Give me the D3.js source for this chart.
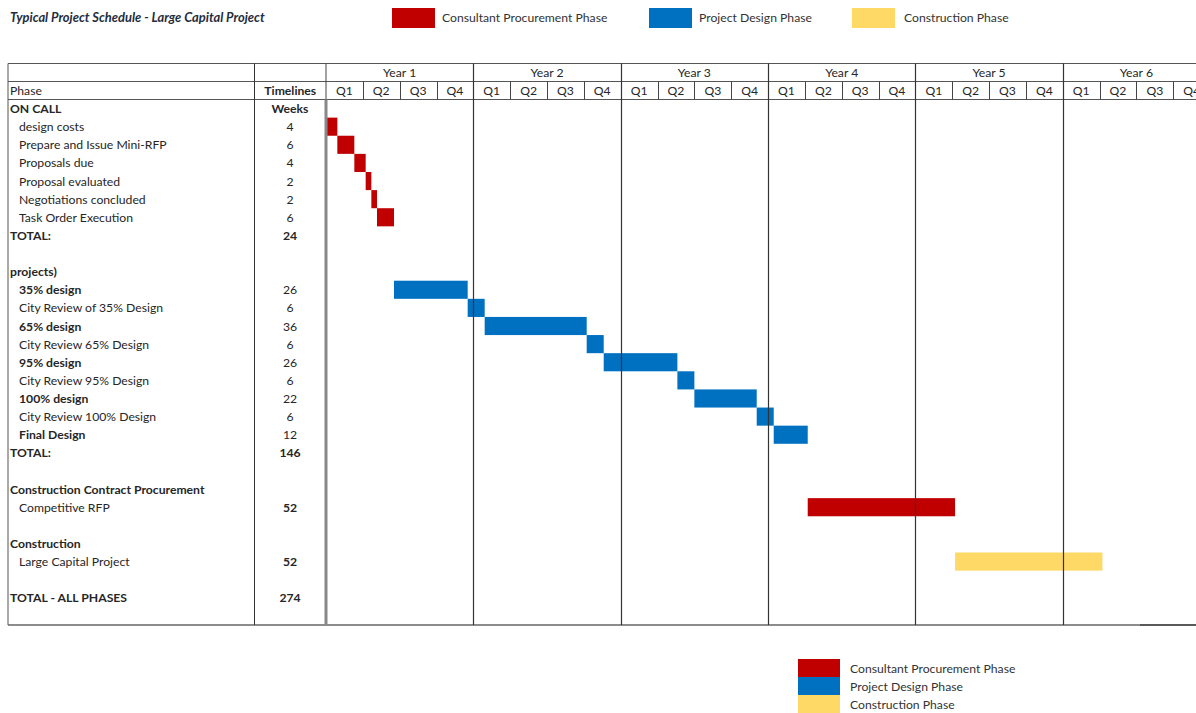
<!DOCTYPE html>
<html>
<head>
<meta charset="utf-8">
<script src="https://cdn.jsdelivr.net/npm/d3@7"></script>
<style>
  html, body { margin: 0; padding: 0; background: #fff; overflow: hidden; }
  svg { display: block; }
  text { font-family: Lato, "Open Sans", sans-serif; fill: #262626; }
</style>
</head>
<body>
<svg id="chart" width="1196" height="713"></svg>
<script>
// ---- schedule data ----
const years = ["Year 1", "Year 2", "Year 3", "Year 4", "Year 5", "Year 6"];
const quarters = ["Q1", "Q2", "Q3", "Q4"];
const weeksPerYear = 52;

// table rows: label, timeline text, row kind
const rowLabels = [
  "ON CALL", "design costs", "Prepare and Issue Mini-RFP", "Proposals due",
  "Proposal evaluated", "Negotiations concluded", "Task Order Execution", "TOTAL:", "",
  "projects)", "35% design", "City Review of 35% Design", "65% design",
  "City Review 65% Design", "95% design", "City Review 95% Design", "100% design",
  "City Review 100% Design", "Final Design", "TOTAL:", "",
  "Construction Contract Procurement", "Competitive RFP", "",
  "Construction", "Large Capital Project", "",
  "TOTAL - ALL PHASES", ""
];
const rowTimelines = [
  "Weeks", "4", "6", "4", "2", "2", "6", "24", "",
  "", "26", "6", "36", "6", "26", "6", "22", "6", "12", "146", "",
  "", "52", "", "", "52", "", "274", ""
];
// head = section heading, task = indented task, taskB = bold indented task, total = total line
const rowKinds = [
  "head", "task", "task", "task", "task", "task", "task", "total", "blank",
  "head", "taskB", "task", "taskB", "task", "taskB", "task", "taskB", "task", "taskB", "total", "blank",
  "head", "task", "blank", "head", "task", "blank", "total", "blank"
];
const boldTimelines = ["Weeks", "24", "146", "274"];
const boldTimelineRows = [22, 25];

// tasks drawn as bars, in sequence
const taskRows = [1, 2, 3, 4, 5, 6, 10, 11, 12, 13, 14, 15, 16, 17, 18, 22, 25];
const taskWeeks = [4, 6, 4, 2, 2, 6, 26, 6, 36, 6, 26, 6, 22, 6, 12, 52, 52];
const taskPhase = [
  "Consultant Procurement Phase", "Consultant Procurement Phase", "Consultant Procurement Phase",
  "Consultant Procurement Phase", "Consultant Procurement Phase", "Consultant Procurement Phase",
  "Project Design Phase", "Project Design Phase", "Project Design Phase", "Project Design Phase",
  "Project Design Phase", "Project Design Phase", "Project Design Phase", "Project Design Phase",
  "Project Design Phase", "Consultant Procurement Phase", "Construction Phase"
];

const phases = ["Consultant Procurement Phase", "Project Design Phase", "Construction Phase"];
const phaseColors = ["#C00000", "#0070C0", "#FFD966"];

const title = "Typical Project Schedule - Large Capital Project";

// ---- layout ----
const svg = d3.select("#chart");
const W = 1196;
const tableLeft = 8, phaseColRight = 254.5, chartLeft = 326;
const headerTop = 63.5, headerMid = 81.5, headerBottom = 99.5;
const rowH = 18.12;
const tableBottom = headerBottom + rowLabels.length * rowH;
const fs = "12.2px";

const color = d3.scaleOrdinal().domain(phases).range(phaseColors);

const x = d3.scaleLinear()
  .domain([0, years.length * weeksPerYear])
  .range([chartLeft, chartLeft + years.length * 147.35]);

const y = d3.scaleBand()
  .domain(d3.range(rowLabels.length))
  .range([headerBottom, tableBottom])
  .paddingInner(0).paddingOuter(0);

// ---- title & top legend ----
svg.append("text")
  .attr("x", 10).attr("y", 22)
  .style("font-size", "12.9px").style("font-weight", "bold").style("font-style", "italic")
  .style("fill", "#1f2d3d")
  .text(title);

const topLegendX = [392, 649, 852];
const topLegend = svg.append("g");
phases.forEach((p, i) => {
  topLegend.append("rect")
    .attr("x", topLegendX[i]).attr("y", 8).attr("width", 43).attr("height", 20)
    .attr("fill", color(p));
  topLegend.append("text")
    .attr("x", topLegendX[i] + (i === 2 ? 52 : 50)).attr("y", 22)
    .style("font-size", fs).style("fill", "#333")
    .text(p);
});

// ---- bars ----
const starts = d3.cumsum([0, ...taskWeeks]);

svg.append("g").selectAll("rect")
  .data(taskWeeks.map((w, i) => ({ row: taskRows[i], start: starts[i], weeks: w, phase: taskPhase[i] })))
  .join("rect")
  .attr("x", d => x(d.start))
  .attr("y", d => y(d.row))
  .attr("width", d => x(d.start + d.weeks) - x(d.start))
  .attr("height", y.bandwidth())
  .attr("fill", d => color(d.phase));

// ---- grid ----
const grid = svg.append("g").attr("fill", "none");
const hline = (y0, x0, x1, stroke, sw) =>
  grid.append("line").attr("x1", x0).attr("x2", x1).attr("y1", y0).attr("y2", y0)
    .attr("stroke", stroke).attr("stroke-width", sw);
const vline = (x0, y0, y1, stroke, sw) =>
  grid.append("line").attr("x1", x0).attr("x2", x0).attr("y1", y0).attr("y2", y1)
    .attr("stroke", stroke).attr("stroke-width", sw);

hline(headerTop, tableLeft, W, "#555", 1);
hline(headerMid, tableLeft, W, "#555", 1);
hline(headerBottom, tableLeft, W, "#555", 1);
hline(tableBottom, tableLeft, 1140, "#666", 1.5);
hline(tableBottom, 1140, W, "#222", 1.5);

vline(tableLeft, headerTop, tableBottom, "#555", 1);
vline(phaseColRight, headerTop, tableBottom, "#333", 1);
vline(chartLeft, headerTop, headerBottom, "#444", 1);
vline(chartLeft, headerBottom, tableBottom, "#888", 3);

// year boundaries run the full height; quarter boundaries only in the quarter row
years.forEach((yr, i) => {
  const x0 = x(i * weeksPerYear);
  if (i > 0) vline(Math.round(x0) + 0.5, headerTop, tableBottom, "#333", 1.2);
  quarters.forEach((q, j) => {
    if (j > 0) vline(Math.round(x(i * weeksPerYear + j * 13)) + 0.5, headerMid, headerBottom, "#444", 1);
  });
});

// ---- header text ----
const hdr = svg.append("g").style("font-size", fs);
years.forEach((yr, i) => {
  hdr.append("text")
    .attr("x", x(i * weeksPerYear + weeksPerYear / 2)).attr("y", headerMid - 5)
    .attr("text-anchor", "middle").text(yr);
  quarters.forEach((q, j) => {
    hdr.append("text")
      .attr("x", x(i * weeksPerYear + j * 13 + 6.5)).attr("y", headerBottom - 5)
      .attr("text-anchor", "middle").text(q);
  });
});
hdr.append("text").attr("x", 10).attr("y", headerBottom - 5).text("Phase");
hdr.append("text").attr("x", (phaseColRight + chartLeft) / 2).attr("y", headerBottom - 5)
  .attr("text-anchor", "middle").style("font-weight", "bold").text("Timelines");

// ---- table body ----
const body = svg.append("g").style("font-size", fs);
rowLabels.forEach((lab, i) => {
  const kind = rowKinds[i];
  const cy = y(i) + y.bandwidth() / 2 + 4.5;
  if (lab) {
    body.append("text")
      .attr("x", kind === "task" || kind === "taskB" ? 19 : 10)
      .attr("y", cy)
      .style("font-weight", kind === "task" ? "normal" : "bold")
      .text(lab);
  }
  const t = rowTimelines[i];
  if (t) {
    body.append("text")
      .attr("x", 290).attr("y", cy)
      .attr("text-anchor", "middle")
      .style("font-weight", boldTimelines.includes(t) || boldTimelineRows.includes(i) ? "bold" : "normal")
      .text(t);
  }
});

// ---- bottom legend ----
const botLegend = svg.append("g");
phases.forEach((p, i) => {
  botLegend.append("rect")
    .attr("x", 798).attr("y", 659 + i * 18).attr("width", 42).attr("height", 18)
    .attr("fill", color(p));
  botLegend.append("text")
    .attr("x", 850).attr("y", 673 + i * 18)
    .style("font-size", fs).style("fill", "#333")
    .text(p);
});
</script>
</body>
</html>
